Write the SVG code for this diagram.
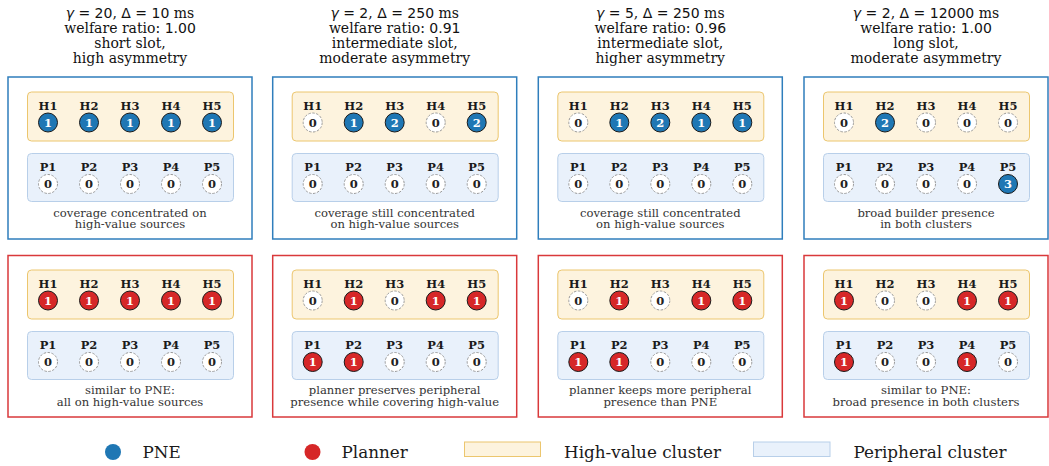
<svg xmlns="http://www.w3.org/2000/svg" width="1049" height="466" viewBox="0 0 1049 466">
<style>
.pb{fill:#fff;stroke:#2f7ebc;stroke-width:1.5}
.pr{fill:#fff;stroke:#d9393b;stroke-width:1.5}
.hc{fill:#fdf3de;stroke:#ecc66e;stroke-width:1}
.pc{fill:#e9f1fb;stroke:#b8cfe9;stroke-width:1}
.lb{font-family:"DejaVu Serif",serif;font-weight:bold;font-size:11.5px;fill:#1a1a1a;text-anchor:middle}
.z{fill:#fff;stroke:#9a9a9a;stroke-width:1;stroke-dasharray:2.5 1.5}
.fb{fill:#1f77b4;stroke:#1a1a1a;stroke-width:1}
.fr{fill:#d62728;stroke:#1a1a1a;stroke-width:1}
.n{font-family:"DejaVu Serif",serif;font-weight:bold;font-size:11.5px;text-anchor:middle;fill:#222}
.nw{fill:#fff}
.cap{font-family:"DejaVu Serif",serif;font-size:11.6px;fill:#333;text-anchor:middle}
.hd{font-family:"DejaVu Serif",serif;font-size:14px;fill:#111;text-anchor:middle}
.m{font-family:"DejaVu Sans",sans-serif}
.lg{font-family:"DejaVu Serif",serif;font-size:16.8px;fill:#1a1a1a}
</style>
<defs>
<circle id="z" r="9.5" class="z"/>
</defs>
<g id="connectors"/>

<!-- headers -->
<g id="header-1">
<text class="hd" x="130" y="17.5"><tspan class="m"><tspan font-style="italic">γ</tspan> = 20</tspan>, <tspan class="m">Δ = 10</tspan> ms</text>
<text class="hd" x="130" y="32.5">welfare ratio: <tspan class="m">1.00</tspan></text>
<text class="hd" x="130" y="47.5">short slot,</text>
<text class="hd" x="130" y="62.5">high asymmetry</text>
</g>
<g id="header-2">
<text class="hd" x="394.7" y="17.5"><tspan class="m"><tspan font-style="italic">γ</tspan> = 2</tspan>, <tspan class="m">Δ = 250</tspan> ms</text>
<text class="hd" x="394.7" y="32.5">welfare ratio: <tspan class="m">0.91</tspan></text>
<text class="hd" x="394.7" y="47.5">intermediate slot,</text>
<text class="hd" x="394.7" y="62.5">moderate asymmetry</text>
</g>
<g id="header-3">
<text class="hd" x="660.3" y="17.5"><tspan class="m"><tspan font-style="italic">γ</tspan> = 5</tspan>, <tspan class="m">Δ = 250</tspan> ms</text>
<text class="hd" x="660.3" y="32.5">welfare ratio: <tspan class="m">0.96</tspan></text>
<text class="hd" x="660.3" y="47.5">intermediate slot,</text>
<text class="hd" x="660.3" y="62.5">higher asymmetry</text>
</g>
<g id="header-4">
<text class="hd" x="926" y="17.5"><tspan class="m"><tspan font-style="italic">γ</tspan> = 2</tspan>, <tspan class="m">Δ = 12000</tspan> ms</text>
<text class="hd" x="926" y="32.5">welfare ratio: <tspan class="m">1.00</tspan></text>
<text class="hd" x="926" y="47.5">long slot,</text>
<text class="hd" x="926" y="62.5">moderate asymmetry</text>
</g>

<!-- PNE panel 1 -->
<g id="pne-1" transform="translate(8,77)">
<rect class="pb" x="0" y="0" width="244" height="162"/>
<rect class="hc" x="19.5" y="15" width="206" height="49" rx="4"/>
<rect class="pc" x="19.5" y="76.5" width="206" height="48" rx="4"/>
<g id="pne-1-H1"><text class="lb" x="40" y="32.5">H1</text><circle class="fb" cx="40" cy="45.5" r="9.5"/><text class="n nw" x="40" y="49.5">1</text></g>
<g id="pne-1-H2"><text class="lb" x="81" y="32.5">H2</text><circle class="fb" cx="81" cy="45.5" r="9.5"/><text class="n nw" x="81" y="49.5">1</text></g>
<g id="pne-1-H3"><text class="lb" x="122" y="32.5">H3</text><circle class="fb" cx="122" cy="45.5" r="9.5"/><text class="n nw" x="122" y="49.5">1</text></g>
<g id="pne-1-H4"><text class="lb" x="163" y="32.5">H4</text><circle class="fb" cx="163" cy="45.5" r="9.5"/><text class="n nw" x="163" y="49.5">1</text></g>
<g id="pne-1-H5"><text class="lb" x="204" y="32.5">H5</text><circle class="fb" cx="204" cy="45.5" r="9.5"/><text class="n nw" x="204" y="49.5">1</text></g>
<g id="pne-1-P1"><text class="lb" x="40" y="94">P1</text><use href="#z" x="40" y="107"/><text class="n" x="40" y="111">0</text></g>
<g id="pne-1-P2"><text class="lb" x="81" y="94">P2</text><use href="#z" x="81" y="107"/><text class="n" x="81" y="111">0</text></g>
<g id="pne-1-P3"><text class="lb" x="122" y="94">P3</text><use href="#z" x="122" y="107"/><text class="n" x="122" y="111">0</text></g>
<g id="pne-1-P4"><text class="lb" x="163" y="94">P4</text><use href="#z" x="163" y="107"/><text class="n" x="163" y="111">0</text></g>
<g id="pne-1-P5"><text class="lb" x="204" y="94">P5</text><use href="#z" x="204" y="107"/><text class="n" x="204" y="111">0</text></g>
<text class="cap" x="122" y="139.5">coverage concentrated on</text>
<text class="cap" x="122" y="151.2">high-value sources</text>
</g>

<!-- PNE panel 2 -->
<g id="pne-2" transform="translate(272.7,77)">
<rect class="pb" x="0" y="0" width="244" height="162"/>
<rect class="hc" x="19.5" y="15" width="206" height="49" rx="4"/>
<rect class="pc" x="19.5" y="76.5" width="206" height="48" rx="4"/>
<g id="pne-2-H1"><text class="lb" x="40" y="32.5">H1</text><use href="#z" x="40" y="45.5"/><text class="n" x="40" y="49.5">0</text></g>
<g id="pne-2-H2"><text class="lb" x="81" y="32.5">H2</text><circle class="fb" cx="81" cy="45.5" r="9.5"/><text class="n nw" x="81" y="49.5">1</text></g>
<g id="pne-2-H3"><text class="lb" x="122" y="32.5">H3</text><circle class="fb" cx="122" cy="45.5" r="9.5"/><text class="n nw" x="122" y="49.5">2</text></g>
<g id="pne-2-H4"><text class="lb" x="163" y="32.5">H4</text><use href="#z" x="163" y="45.5"/><text class="n" x="163" y="49.5">0</text></g>
<g id="pne-2-H5"><text class="lb" x="204" y="32.5">H5</text><circle class="fb" cx="204" cy="45.5" r="9.5"/><text class="n nw" x="204" y="49.5">2</text></g>
<g id="pne-2-P1"><text class="lb" x="40" y="94">P1</text><use href="#z" x="40" y="107"/><text class="n" x="40" y="111">0</text></g>
<g id="pne-2-P2"><text class="lb" x="81" y="94">P2</text><use href="#z" x="81" y="107"/><text class="n" x="81" y="111">0</text></g>
<g id="pne-2-P3"><text class="lb" x="122" y="94">P3</text><use href="#z" x="122" y="107"/><text class="n" x="122" y="111">0</text></g>
<g id="pne-2-P4"><text class="lb" x="163" y="94">P4</text><use href="#z" x="163" y="107"/><text class="n" x="163" y="111">0</text></g>
<g id="pne-2-P5"><text class="lb" x="204" y="94">P5</text><use href="#z" x="204" y="107"/><text class="n" x="204" y="111">0</text></g>
<text class="cap" x="122" y="139.5">coverage still concentrated</text>
<text class="cap" x="122" y="151.2">on high-value sources</text>
</g>

<!-- PNE panel 3 -->
<g id="pne-3" transform="translate(538.3,77)">
<rect class="pb" x="0" y="0" width="244" height="162"/>
<rect class="hc" x="19.5" y="15" width="206" height="49" rx="4"/>
<rect class="pc" x="19.5" y="76.5" width="206" height="48" rx="4"/>
<g id="pne-3-H1"><text class="lb" x="40" y="32.5">H1</text><use href="#z" x="40" y="45.5"/><text class="n" x="40" y="49.5">0</text></g>
<g id="pne-3-H2"><text class="lb" x="81" y="32.5">H2</text><circle class="fb" cx="81" cy="45.5" r="9.5"/><text class="n nw" x="81" y="49.5">1</text></g>
<g id="pne-3-H3"><text class="lb" x="122" y="32.5">H3</text><circle class="fb" cx="122" cy="45.5" r="9.5"/><text class="n nw" x="122" y="49.5">2</text></g>
<g id="pne-3-H4"><text class="lb" x="163" y="32.5">H4</text><circle class="fb" cx="163" cy="45.5" r="9.5"/><text class="n nw" x="163" y="49.5">1</text></g>
<g id="pne-3-H5"><text class="lb" x="204" y="32.5">H5</text><circle class="fb" cx="204" cy="45.5" r="9.5"/><text class="n nw" x="204" y="49.5">1</text></g>
<g id="pne-3-P1"><text class="lb" x="40" y="94">P1</text><use href="#z" x="40" y="107"/><text class="n" x="40" y="111">0</text></g>
<g id="pne-3-P2"><text class="lb" x="81" y="94">P2</text><use href="#z" x="81" y="107"/><text class="n" x="81" y="111">0</text></g>
<g id="pne-3-P3"><text class="lb" x="122" y="94">P3</text><use href="#z" x="122" y="107"/><text class="n" x="122" y="111">0</text></g>
<g id="pne-3-P4"><text class="lb" x="163" y="94">P4</text><use href="#z" x="163" y="107"/><text class="n" x="163" y="111">0</text></g>
<g id="pne-3-P5"><text class="lb" x="204" y="94">P5</text><use href="#z" x="204" y="107"/><text class="n" x="204" y="111">0</text></g>
<text class="cap" x="122" y="139.5">coverage still concentrated</text>
<text class="cap" x="122" y="151.2">on high-value sources</text>
</g>

<!-- PNE panel 4 -->
<g id="pne-4" transform="translate(804,77)">
<rect class="pb" x="0" y="0" width="244" height="162"/>
<rect class="hc" x="19.5" y="15" width="206" height="49" rx="4"/>
<rect class="pc" x="19.5" y="76.5" width="206" height="48" rx="4"/>
<g id="pne-4-H1"><text class="lb" x="40" y="32.5">H1</text><use href="#z" x="40" y="45.5"/><text class="n" x="40" y="49.5">0</text></g>
<g id="pne-4-H2"><text class="lb" x="81" y="32.5">H2</text><circle class="fb" cx="81" cy="45.5" r="9.5"/><text class="n nw" x="81" y="49.5">2</text></g>
<g id="pne-4-H3"><text class="lb" x="122" y="32.5">H3</text><use href="#z" x="122" y="45.5"/><text class="n" x="122" y="49.5">0</text></g>
<g id="pne-4-H4"><text class="lb" x="163" y="32.5">H4</text><use href="#z" x="163" y="45.5"/><text class="n" x="163" y="49.5">0</text></g>
<g id="pne-4-H5"><text class="lb" x="204" y="32.5">H5</text><use href="#z" x="204" y="45.5"/><text class="n" x="204" y="49.5">0</text></g>
<g id="pne-4-P1"><text class="lb" x="40" y="94">P1</text><use href="#z" x="40" y="107"/><text class="n" x="40" y="111">0</text></g>
<g id="pne-4-P2"><text class="lb" x="81" y="94">P2</text><use href="#z" x="81" y="107"/><text class="n" x="81" y="111">0</text></g>
<g id="pne-4-P3"><text class="lb" x="122" y="94">P3</text><use href="#z" x="122" y="107"/><text class="n" x="122" y="111">0</text></g>
<g id="pne-4-P4"><text class="lb" x="163" y="94">P4</text><use href="#z" x="163" y="107"/><text class="n" x="163" y="111">0</text></g>
<g id="pne-4-P5"><text class="lb" x="204" y="94">P5</text><circle class="fb" cx="204" cy="107" r="9.5"/><text class="n nw" x="204" y="111">3</text></g>
<text class="cap" x="122" y="139.5">broad builder presence</text>
<text class="cap" x="122" y="151.2">in both clusters</text>
</g>

<!-- Planner panel 1 -->
<g id="planner-1" transform="translate(8,255.5)">
<rect class="pr" x="0" y="0" width="244" height="161.5"/>
<rect class="hc" x="19.5" y="14.5" width="206" height="49" rx="4"/>
<rect class="pc" x="19.5" y="76" width="206" height="48" rx="4"/>
<g id="planner-1-H1"><text class="lb" x="40" y="32">H1</text><circle class="fr" cx="40" cy="45" r="9.5"/><text class="n nw" x="40" y="49">1</text></g>
<g id="planner-1-H2"><text class="lb" x="81" y="32">H2</text><circle class="fr" cx="81" cy="45" r="9.5"/><text class="n nw" x="81" y="49">1</text></g>
<g id="planner-1-H3"><text class="lb" x="122" y="32">H3</text><circle class="fr" cx="122" cy="45" r="9.5"/><text class="n nw" x="122" y="49">1</text></g>
<g id="planner-1-H4"><text class="lb" x="163" y="32">H4</text><circle class="fr" cx="163" cy="45" r="9.5"/><text class="n nw" x="163" y="49">1</text></g>
<g id="planner-1-H5"><text class="lb" x="204" y="32">H5</text><circle class="fr" cx="204" cy="45" r="9.5"/><text class="n nw" x="204" y="49">1</text></g>
<g id="planner-1-P1"><text class="lb" x="40" y="93.5">P1</text><use href="#z" x="40" y="106.5"/><text class="n" x="40" y="110.5">0</text></g>
<g id="planner-1-P2"><text class="lb" x="81" y="93.5">P2</text><use href="#z" x="81" y="106.5"/><text class="n" x="81" y="110.5">0</text></g>
<g id="planner-1-P3"><text class="lb" x="122" y="93.5">P3</text><use href="#z" x="122" y="106.5"/><text class="n" x="122" y="110.5">0</text></g>
<g id="planner-1-P4"><text class="lb" x="163" y="93.5">P4</text><use href="#z" x="163" y="106.5"/><text class="n" x="163" y="110.5">0</text></g>
<g id="planner-1-P5"><text class="lb" x="204" y="93.5">P5</text><use href="#z" x="204" y="106.5"/><text class="n" x="204" y="110.5">0</text></g>
<text class="cap" x="122" y="138.5">similar to PNE:</text>
<text class="cap" x="122" y="150.2">all on high-value sources</text>
</g>

<!-- Planner panel 2 -->
<g id="planner-2" transform="translate(272.7,255.5)">
<rect class="pr" x="0" y="0" width="244" height="161.5"/>
<rect class="hc" x="19.5" y="14.5" width="206" height="49" rx="4"/>
<rect class="pc" x="19.5" y="76" width="206" height="48" rx="4"/>
<g id="planner-2-H1"><text class="lb" x="40" y="32">H1</text><use href="#z" x="40" y="45"/><text class="n" x="40" y="49">0</text></g>
<g id="planner-2-H2"><text class="lb" x="81" y="32">H2</text><circle class="fr" cx="81" cy="45" r="9.5"/><text class="n nw" x="81" y="49">1</text></g>
<g id="planner-2-H3"><text class="lb" x="122" y="32">H3</text><use href="#z" x="122" y="45"/><text class="n" x="122" y="49">0</text></g>
<g id="planner-2-H4"><text class="lb" x="163" y="32">H4</text><circle class="fr" cx="163" cy="45" r="9.5"/><text class="n nw" x="163" y="49">1</text></g>
<g id="planner-2-H5"><text class="lb" x="204" y="32">H5</text><circle class="fr" cx="204" cy="45" r="9.5"/><text class="n nw" x="204" y="49">1</text></g>
<g id="planner-2-P1"><text class="lb" x="40" y="93.5">P1</text><circle class="fr" cx="40" cy="106.5" r="9.5"/><text class="n nw" x="40" y="110.5">1</text></g>
<g id="planner-2-P2"><text class="lb" x="81" y="93.5">P2</text><circle class="fr" cx="81" cy="106.5" r="9.5"/><text class="n nw" x="81" y="110.5">1</text></g>
<g id="planner-2-P3"><text class="lb" x="122" y="93.5">P3</text><use href="#z" x="122" y="106.5"/><text class="n" x="122" y="110.5">0</text></g>
<g id="planner-2-P4"><text class="lb" x="163" y="93.5">P4</text><use href="#z" x="163" y="106.5"/><text class="n" x="163" y="110.5">0</text></g>
<g id="planner-2-P5"><text class="lb" x="204" y="93.5">P5</text><use href="#z" x="204" y="106.5"/><text class="n" x="204" y="110.5">0</text></g>
<text class="cap" x="122" y="138.5">planner preserves peripheral</text>
<text class="cap" x="122" y="150.2">presence while covering high-value</text>
</g>

<!-- Planner panel 3 -->
<g id="planner-3" transform="translate(538.3,255.5)">
<rect class="pr" x="0" y="0" width="244" height="161.5"/>
<rect class="hc" x="19.5" y="14.5" width="206" height="49" rx="4"/>
<rect class="pc" x="19.5" y="76" width="206" height="48" rx="4"/>
<g id="planner-3-H1"><text class="lb" x="40" y="32">H1</text><use href="#z" x="40" y="45"/><text class="n" x="40" y="49">0</text></g>
<g id="planner-3-H2"><text class="lb" x="81" y="32">H2</text><circle class="fr" cx="81" cy="45" r="9.5"/><text class="n nw" x="81" y="49">1</text></g>
<g id="planner-3-H3"><text class="lb" x="122" y="32">H3</text><use href="#z" x="122" y="45"/><text class="n" x="122" y="49">0</text></g>
<g id="planner-3-H4"><text class="lb" x="163" y="32">H4</text><circle class="fr" cx="163" cy="45" r="9.5"/><text class="n nw" x="163" y="49">1</text></g>
<g id="planner-3-H5"><text class="lb" x="204" y="32">H5</text><circle class="fr" cx="204" cy="45" r="9.5"/><text class="n nw" x="204" y="49">1</text></g>
<g id="planner-3-P1"><text class="lb" x="40" y="93.5">P1</text><circle class="fr" cx="40" cy="106.5" r="9.5"/><text class="n nw" x="40" y="110.5">1</text></g>
<g id="planner-3-P2"><text class="lb" x="81" y="93.5">P2</text><circle class="fr" cx="81" cy="106.5" r="9.5"/><text class="n nw" x="81" y="110.5">1</text></g>
<g id="planner-3-P3"><text class="lb" x="122" y="93.5">P3</text><use href="#z" x="122" y="106.5"/><text class="n" x="122" y="110.5">0</text></g>
<g id="planner-3-P4"><text class="lb" x="163" y="93.5">P4</text><use href="#z" x="163" y="106.5"/><text class="n" x="163" y="110.5">0</text></g>
<g id="planner-3-P5"><text class="lb" x="204" y="93.5">P5</text><use href="#z" x="204" y="106.5"/><text class="n" x="204" y="110.5">0</text></g>
<text class="cap" x="122" y="138.5">planner keeps more peripheral</text>
<text class="cap" x="122" y="150.2">presence than PNE</text>
</g>

<!-- Planner panel 4 -->
<g id="planner-4" transform="translate(804,255.5)">
<rect class="pr" x="0" y="0" width="244" height="161.5"/>
<rect class="hc" x="19.5" y="14.5" width="206" height="49" rx="4"/>
<rect class="pc" x="19.5" y="76" width="206" height="48" rx="4"/>
<g id="planner-4-H1"><text class="lb" x="40" y="32">H1</text><circle class="fr" cx="40" cy="45" r="9.5"/><text class="n nw" x="40" y="49">1</text></g>
<g id="planner-4-H2"><text class="lb" x="81" y="32">H2</text><use href="#z" x="81" y="45"/><text class="n" x="81" y="49">0</text></g>
<g id="planner-4-H3"><text class="lb" x="122" y="32">H3</text><use href="#z" x="122" y="45"/><text class="n" x="122" y="49">0</text></g>
<g id="planner-4-H4"><text class="lb" x="163" y="32">H4</text><circle class="fr" cx="163" cy="45" r="9.5"/><text class="n nw" x="163" y="49">1</text></g>
<g id="planner-4-H5"><text class="lb" x="204" y="32">H5</text><circle class="fr" cx="204" cy="45" r="9.5"/><text class="n nw" x="204" y="49">1</text></g>
<g id="planner-4-P1"><text class="lb" x="40" y="93.5">P1</text><circle class="fr" cx="40" cy="106.5" r="9.5"/><text class="n nw" x="40" y="110.5">1</text></g>
<g id="planner-4-P2"><text class="lb" x="81" y="93.5">P2</text><use href="#z" x="81" y="106.5"/><text class="n" x="81" y="110.5">0</text></g>
<g id="planner-4-P3"><text class="lb" x="122" y="93.5">P3</text><use href="#z" x="122" y="106.5"/><text class="n" x="122" y="110.5">0</text></g>
<g id="planner-4-P4"><text class="lb" x="163" y="93.5">P4</text><circle class="fr" cx="163" cy="106.5" r="9.5"/><text class="n nw" x="163" y="110.5">1</text></g>
<g id="planner-4-P5"><text class="lb" x="204" y="93.5">P5</text><use href="#z" x="204" y="106.5"/><text class="n" x="204" y="110.5">0</text></g>
<text class="cap" x="122" y="138.5">similar to PNE:</text>
<text class="cap" x="122" y="150.2">broad presence in both clusters</text>
</g>

<!-- legend -->
<g id="legend">
<circle cx="113" cy="452" r="8" fill="#1f77b4"/>
<text class="lg" x="142.5" y="457.5">PNE</text>
<circle cx="312.5" cy="452" r="8" fill="#d62728"/>
<text class="lg" x="341.5" y="457.5">Planner</text>
<rect x="464.5" y="442" width="76" height="14.5" fill="#fdf3de" stroke="#ecc66e" stroke-width="1"/>
<text class="lg" x="564" y="457.5">High-value cluster</text>
<rect x="753.5" y="442" width="76.5" height="14.5" fill="#e9f1fb" stroke="#b8cfe9" stroke-width="1"/>
<text class="lg" x="853.5" y="457.5">Peripheral cluster</text>
</g>
</svg>
